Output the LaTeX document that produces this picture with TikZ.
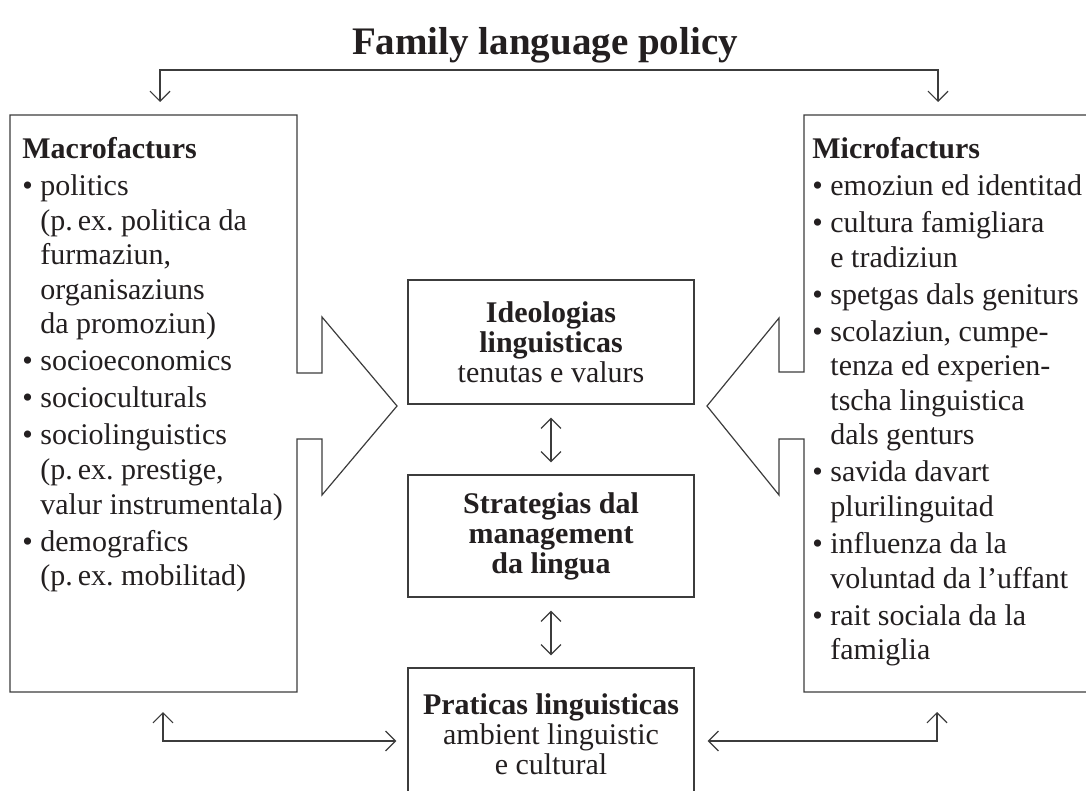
\documentclass[tikz,border=0pt]{standalone}
\usepackage{fontspec}
\setmainfont{Liberation Serif}
\usetikzlibrary{arrows.meta}
\definecolor{ink}{HTML}{231F20}
\definecolor{rule}{HTML}{3C3C3C}
\newcommand{\fbul}{\makebox[9pt][l]{\textbullet}}
\newcommand{\fcont}{\hspace*{9pt}}

\begin{document}
\begin{tikzpicture}[x=0.5pt,y=-0.5pt,
  every node/.style={text=ink},
  sidetext/.style={font=\fontsize{15}{17.3}\selectfont,align=left,anchor=north west,inner sep=0pt},
  centrebox/.style={draw=rule,line width=0.6pt,font=\fontsize{15}{15}\selectfont,align=center,minimum width=143pt},
  frame/.style={draw=rule,line width=0.6pt,line join=miter},
  dbl/.style={draw=rule,line width=0.6pt,{Straight Barb[length=5pt,width=10pt]}-{Straight Barb[length=5pt,width=10pt]}}]

\useasboundingbox (0,0) rectangle (1086,791);

\node[font=\bfseries\fontsize{19.5}{23}\selectfont,anchor=base] (title) at (545,55) {Family language policy};

% side boxes with their big arrows
\draw[frame] (297,373) -- (297,115) -- (10,115) -- (10,692) -- (297,692) -- (297,439) -- (322,439)
  -- (322,495) -- (397,406) -- (322,317) -- (322,373) -- cycle;
\draw[frame] (804,372) -- (804,115) -- (1110,115) -- (1110,692) -- (804,692) -- (804,439) -- (779,439)
  -- (779,495) -- (707,406) -- (779,318) -- (779,372) -- cycle;

\node[sidetext] (macro) at (22,137) {{\bfseries Macrofacturs}\\[1.2pt]
  \fbul politics\\
  \fcont(p.\,ex.\ politica da\\
  \fcont furmaziun,\\
  \fcont organisaziuns\\
  \fcont da promoziun)\\[1.2pt]
  \fbul socioeconomics\\[1.2pt]
  \fbul socioculturals\\[1.2pt]
  \fbul sociolinguistics\\
  \fcont(p.\,ex.\ prestige,\\
  \fcont valur instrumentala)\\[1.2pt]
  \fbul demografics\\
  \fcont(p.\,ex.\ mobilitad)};

\node[sidetext] (micro) at (812,137) {{\bfseries Microfacturs}\\[1.2pt]
  \fbul emoziun ed identitad\\[1.2pt]
  \fbul cultura famigliara\\
  \fcont e tradiziun\\[1.2pt]
  \fbul spetgas dals geniturs\\[1.2pt]
  \fbul scolaziun, cumpe-\\
  \fcont tenza ed experien-\\
  \fcont tscha linguistica\\
  \fcont dals genturs\\[1.2pt]
  \fbul savida davart\\
  \fcont plurilinguitad\\[1.2pt]
  \fbul influenza da la\\
  \fcont voluntad da l’uffant\\[1.2pt]
  \fbul rait sociala da la\\
  \fcont famiglia};

% centre column
\node[centrebox,minimum height=62pt] (ideo) at (551,342) {{\bfseries Ideologias}\\{\bfseries linguisticas}\\tenutas e valurs};
\node[centrebox,minimum height=61pt] (strat) at (551,536) {\bfseries Strategias dal\\\bfseries management\\\bfseries da lingua};
\node[centrebox,minimum height=66pt] (prat) at (551,734) {{\bfseries Praticas linguisticas}\\ambient linguistic\\e cultural};

\draw[dbl,shorten <=6.5pt,shorten >=6pt] (ideo) -- (strat);
\draw[dbl,shorten <=6.5pt,shorten >=6pt] (strat) -- (prat);

\coordinate (macrotop) at (160,102);
\coordinate (microtop) at (938,102);
\coordinate (macrobot) at (163,712);
\coordinate (microbot) at (937,712);

\draw[dbl] (macrotop) -- ++(0,-32) -| (microtop);
\draw[dbl] (macrobot) |- ([yshift=-3.5pt,xshift=-5.5pt]prat.west);
\draw[dbl] (microbot) |- ([yshift=-3.5pt,xshift=6.5pt]prat.east);
\end{tikzpicture}
\end{document}
